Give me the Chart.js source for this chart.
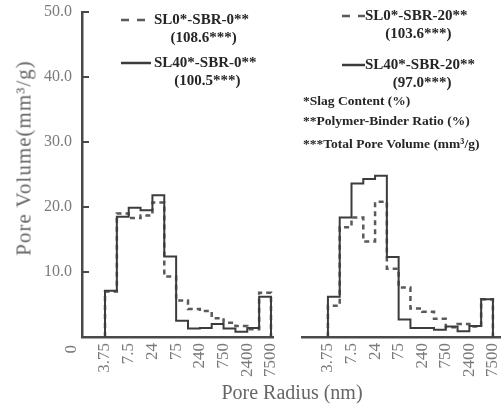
<!DOCTYPE html>
<html>
<head>
<meta charset="utf-8">
<script src="https://cdn.jsdelivr.net/npm/chart.js@4.4.1/dist/chart.umd.min.js"></script>
<style>
  body { margin: 0; background: #fff; }
  #wrap { position: relative; width: 504px; height: 410px; font-family: 'Liberation Serif', serif; }
  #wrap canvas { position: absolute; left: 0; top: 0; }
  #right-chart { pointer-events: none; }
  .axis-title { position: absolute; color: #666; font-size: 20px; white-space: nowrap; }
  #y-title { left: 24px; top: 158px; font-size: 21px; transform: translate(-50%, -50%) rotate(-90deg); letter-spacing: 1px; }
  #x-title { left: 292px; top: 392px; transform: translate(-50%, -50%); }
</style>
</head>
<body>
<div id="wrap">
  <canvas id="left-chart" width="504" height="410"></canvas>
  <canvas id="right-chart" width="504" height="410"></canvas>
  <div class="axis-title" id="y-title">Pore Volume(mm³/g)</div>
  <div class="axis-title" id="x-title">Pore Radius (nm)</div>
</div>
<script>
// pore radius labels, one every second bin edge
var radiusLabels = ['3.75', '7.5', '24', '75', '240', '750', '2400', '7500'];
var yTicks = [10, 20, 30, 40, 50];

// pore volume per radius bin (mm3/g), 14 bins
var sl0Sbr0 = [7.0, 19.0, 18.3, 18.7, 20.7, 9.3, 5.6, 4.3, 4.0, 2.9, 2.2, 1.7, 1.2, 6.8];
var sl40Sbr0 = [7.1, 18.5, 19.9, 19.5, 21.8, 12.4, 2.5, 1.3, 1.4, 2.0, 1.3, 0.8, 1.4, 6.2];
var sl0Sbr20 = [4.8, 16.9, 18.4, 14.7, 20.8, 10.5, 7.6, 4.4, 3.9, 2.8, 1.5, 2.0, 1.6, 5.8];
var sl40Sbr20 = [6.2, 18.4, 23.6, 24.3, 24.8, 12.3, 2.7, 1.4, 1.4, 1.1, 1.6, 0.9, 1.7, 5.8];

var seriesLabels = ['SL0*-SBR-0**', 'SL40*-SBR-0**', 'SL0*-SBR-20**', 'SL40*-SBR-20**'];
var totalVolumes = [108.6, 100.5, 103.6, 97.0];
var footnotes = ['*Slag Content (%)', '**Polymer-Binder Ratio (%)', '***Total Pore Volume (mm\u00b3/g)'];

var AXIS_COLOR = '#4a4a4a';
var TICK_COLOR = '#7a7a7a';
var SERIF = 'Liberation Serif';

// closed step outline: up from the baseline, across each bin, back down
function stepPoints(values) {
    var pts = [{ x: 0, y: 0 }];
    values.forEach(function (v, i) { pts.push({ x: i, y: v }); });
    pts.push({ x: values.length, y: values[values.length - 1] });
    pts.push({ x: values.length, y: 0 });
    return pts;
}

function histogram(label, values, total, dashed) {
    return {
        label: label,
        total: total,
        data: stepPoints(values),
        stepped: true,
        fill: false,
        borderColor: dashed ? '#5a5a5a' : '#3c3c3c',
        borderWidth: dashed ? 2.5 : 2,
        borderDash: dashed ? [5, 4] : [],
        pointRadius: 0,
        order: dashed ? 2 : 1
    };
}

var keyPlugin = {
    id: 'key',
    afterDraw: function (chart, args, opts) {
        if (!opts.rows) return;
        var ctx = chart.ctx;
        ctx.save();
        ctx.fillStyle = '#262626';
        ctx.textBaseline = 'middle';
        opts.rows.forEach(function (row) {
            var ds = chart.data.datasets[row.dataset];
            ctx.beginPath();
            ctx.setLineDash(ds.borderDash.length ? [8, 8] : []);
            ctx.lineWidth = 2.5;
            ctx.strokeStyle = ds.borderColor;
            ctx.moveTo(opts.x, row.y);
            ctx.lineTo(opts.x + opts.sample, row.y);
            ctx.stroke();
            ctx.setLineDash([]);
            ctx.font = 'bold 15px "' + SERIF + '"';
            var tx = opts.x + opts.sample + opts.gap;
            ctx.textAlign = 'left';
            ctx.fillText(ds.label, tx, row.y);
            var w = ctx.measureText(ds.label).width;
            ctx.textAlign = 'center';
            ctx.fillText('(' + ds.total.toFixed(1) + '***)', tx + w / 2 + 2, row.y + opts.totalGap);
        });
        if (opts.notes) {
            ctx.font = 'bold 13.5px "' + SERIF + '"';
            ctx.textAlign = 'left';
            footnotes.forEach(function (text, i) {
                ctx.fillText(text, opts.notes.x, opts.notes.y[i]);
            });
        }
        if (opts.origin) {
            // the "0" at the foot of the radius axis, turned like the other labels
            var x = chart.scales.x.left - 10;
            var y = chart.scales.x.top + 8;
            ctx.font = '17px "' + SERIF + '"';
            ctx.fillStyle = TICK_COLOR;
            ctx.translate(x, y);
            ctx.rotate(-Math.PI / 2);
            ctx.textAlign = 'right';
            ctx.fillText('0', 0, 0);
        }
        ctx.restore();
    }
};

function panelOptions(cfg) {
    return {
        responsive: false,
        animation: false,
        events: [],
        layout: { padding: cfg.padding },
        plugins: {
            legend: { display: false },
            tooltip: { enabled: false },
            key: cfg.key
        },
        scales: {
            x: {
                type: 'linear',
                min: cfg.xMin,
                max: cfg.xMax,
                afterBuildTicks: function (axis) {
                    axis.ticks = radiusLabels.map(function (l, i) { return { value: i * 2 }; });
                },
                afterFit: function (axis) {
                    axis.height = 73;
                    axis.paddingLeft = 0;
                    axis.paddingRight = 0;
                },
                ticks: {
                    autoSkip: false,
                    minRotation: 90,
                    maxRotation: 90,
                    padding: 6,
                    color: TICK_COLOR,
                    font: { family: SERIF, size: 17 },
                    callback: function (val, index) { return radiusLabels[index]; }
                },
                grid: { display: false, drawTicks: false },
                border: { color: AXIS_COLOR, width: 2.5 }
            },
            y: {
                display: cfg.showY,
                min: 0,
                max: 50,
                afterBuildTicks: function (axis) {
                    axis.ticks = yTicks.map(function (v) { return { value: v }; });
                },
                afterFit: function (axis) {
                    axis.width = cfg.showY ? 82 : 0;
                    axis.paddingTop = 0;
                    axis.paddingBottom = 0;
                },
                ticks: {
                    padding: 17,
                    color: TICK_COLOR,
                    font: { family: SERIF, size: 16 },
                    callback: function (val) { return val.toFixed(1); }
                },
                grid: { drawOnChartArea: false, drawTicks: true, tickLength: -7, color: AXIS_COLOR, lineWidth: 2 },
                border: { color: AXIS_COLOR, width: 2.5 }
            }
        }
    };
}

new Chart(document.getElementById('left-chart'), {
    type: 'line',
    data: {
        datasets: [
            histogram(seriesLabels[0], sl0Sbr0, totalVolumes[0], true),
            histogram(seriesLabels[1], sl40Sbr0, totalVolumes[1], false)
        ]
    },
    options: panelOptions({
        showY: true,
        xMin: -1.94,
        xMax: 14.17,
        padding: { left: 0, top: 12, right: 231, bottom: 0 },
        key: { x: 121, sample: 30, gap: 3, totalGap: 18, origin: true,
               rows: [{ dataset: 0, y: 20 }, { dataset: 1, y: 63 }] }
    }),
    plugins: [keyPlugin]
});

new Chart(document.getElementById('right-chart'), {
    type: 'line',
    data: {
        datasets: [
            histogram(seriesLabels[2], sl0Sbr20, totalVolumes[2], true),
            histogram(seriesLabels[3], sl40Sbr20, totalVolumes[3], false)
        ]
    },
    options: panelOptions({
        showY: false,
        xMin: -2.2,
        xMax: 14.6,
        padding: { left: 302, top: 12, right: 4, bottom: 0 },
        key: { x: 342, sample: 23, gap: 0, totalGap: 18,
               rows: [{ dataset: 0, y: 16 }, { dataset: 1, y: 65 }],
               notes: { x: 303, y: [102, 122, 145] } }
    }),
    plugins: [keyPlugin]
});
</script>
</body>
</html>
